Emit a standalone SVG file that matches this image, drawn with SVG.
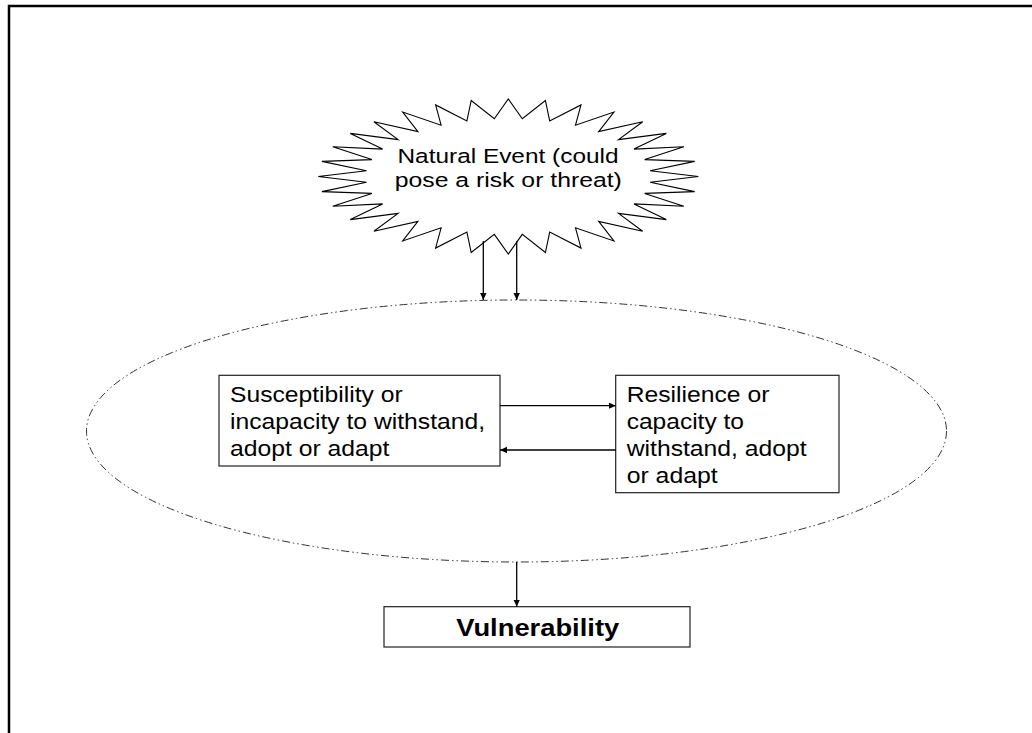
<svg xmlns="http://www.w3.org/2000/svg" width="1032" height="733" viewBox="0 0 1032 733">
<style>
.frame{fill:none;stroke:#000;stroke-width:2.5}
.box{fill:#fff;stroke:#222;stroke-width:1.2}
.star{fill:#fff;stroke:#000;stroke-width:1.1;stroke-linejoin:miter}
.oval{fill:none;stroke:#333;stroke-width:1;stroke-dasharray:8 3 1.5 3 1.5 3}
.conn{stroke:#000;stroke-width:1.3;fill:none;marker-end:url(#ah)}
.t{font-family:"Liberation Sans",Arial,sans-serif;fill:#000}
</style>
<defs>
<marker id="ah" markerUnits="userSpaceOnUse" markerWidth="8" markerHeight="8" refX="7" refY="3.2" orient="auto">
<path d="M0,0 L7,3.2 L0,6.4 z" fill="#000"/>
</marker>
</defs>
<rect width="1032" height="733" fill="#fff"/>
<rect class="frame" x="9" y="6" width="1040" height="740"/>
<g id="event">
<polygon class="star" points="698.3,176.5 650.1,170.8 694.7,161.4 644.7,159.6 683.8,146.8 634.0,149.1 666.3,133.4 618.5,139.6 642.7,121.7 598.7,131.6 613.9,112.1 575.5,125.2 581.0,104.9 549.7,120.9 545.4,100.5 522.3,118.7 508.3,99.0 494.3,118.7 471.2,100.5 466.9,120.9 435.6,104.9 441.1,125.2 402.7,112.1 417.9,131.6 373.9,121.7 398.1,139.6 350.3,133.4 382.6,149.1 332.8,146.8 371.9,159.6 321.9,161.4 366.5,170.8 318.3,176.5 366.5,182.2 321.9,191.6 371.9,193.4 332.8,206.2 382.6,203.9 350.3,219.6 398.1,213.4 373.9,231.3 417.9,221.4 402.7,240.9 441.1,227.8 435.6,248.1 466.9,232.1 471.2,252.5 494.3,234.4 508.3,254.0 522.3,234.4 545.4,252.5 549.7,232.1 581.0,248.1 575.5,227.8 613.9,240.9 598.7,221.4 642.7,231.3 618.5,213.4 666.3,219.6 634.0,203.9 683.8,206.2 644.7,193.4 694.7,191.6 650.1,182.2"/>
<text class="t" font-size="20.5" text-anchor="middle" x="508" y="162.7" textLength="221" lengthAdjust="spacingAndGlyphs">Natural Event (could</text>
<text class="t" font-size="20.5" text-anchor="middle" x="508.3" y="187.3" textLength="227" lengthAdjust="spacingAndGlyphs">pose a risk or threat)</text>
</g>
<g id="context">
<ellipse class="oval" cx="516.5" cy="431" rx="430" ry="131"/>
</g>
<g id="susceptibility">
<rect class="box" x="219" y="375.3" width="281" height="90.7"/>
<text class="t" font-size="22" x="230" y="401.7" textLength="172.7" lengthAdjust="spacingAndGlyphs">Susceptibility or</text>
<text class="t" font-size="22" x="230" y="429" textLength="255" lengthAdjust="spacingAndGlyphs">incapacity to withstand,</text>
<text class="t" font-size="22" x="230" y="455.7" textLength="159.3" lengthAdjust="spacingAndGlyphs">adopt or adapt</text>
</g>
<g id="resilience">
<rect class="box" x="615.7" y="375.3" width="223.3" height="117.4"/>
<text class="t" font-size="22" x="626.7" y="401.7" textLength="142.7" lengthAdjust="spacingAndGlyphs">Resilience or</text>
<text class="t" font-size="22" x="626.7" y="429" textLength="117.3" lengthAdjust="spacingAndGlyphs">capacity to</text>
<text class="t" font-size="22" x="626.7" y="455.7" textLength="180" lengthAdjust="spacingAndGlyphs">withstand, adopt</text>
<text class="t" font-size="22" x="626.7" y="482.7" textLength="91" lengthAdjust="spacingAndGlyphs">or adapt</text>
</g>
<g id="vulnerability">
<rect class="box" x="384" y="606.7" width="306" height="40.3"/>
<text class="t" font-size="23.5" font-weight="bold" text-anchor="middle" x="537.7" y="636" textLength="163" lengthAdjust="spacingAndGlyphs">Vulnerability</text>
</g>
<g id="connectors">
<line class="conn" x1="483.3" y1="241" x2="483.3" y2="300"/>
<line class="conn" x1="516.7" y1="241" x2="516.7" y2="300"/>
<line class="conn" x1="500" y1="405.7" x2="615.7" y2="405.7"/>
<line class="conn" x1="616" y1="450" x2="500" y2="450"/>
<line class="conn" x1="516.7" y1="562" x2="516.7" y2="606.7"/>
</g>
</svg>
